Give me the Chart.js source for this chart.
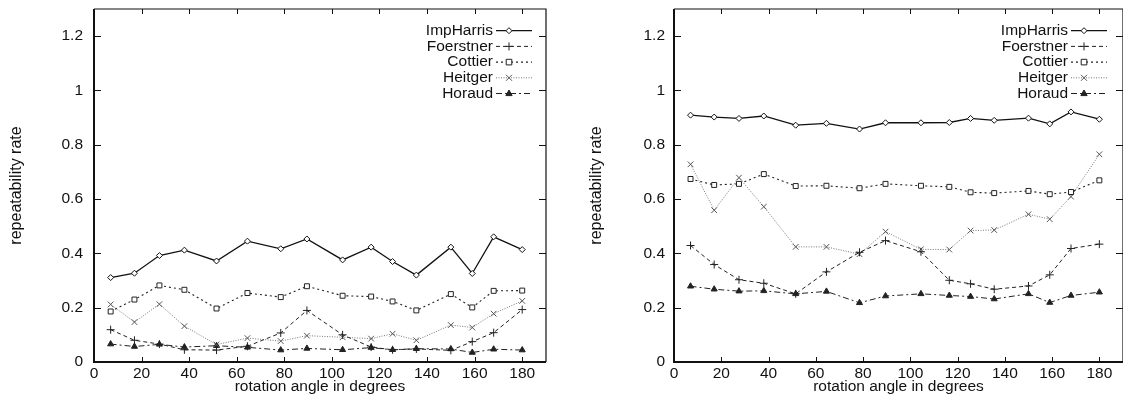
<!DOCTYPE html>
<html>
<head>
<meta charset="utf-8">
<script src="https://cdn.jsdelivr.net/npm/chart.js@4/dist/chart.umd.min.js"></script>
<style>
  html, body { margin: 0; padding: 0; background: #fff; }
  body { width: 1123px; height: 404px; position: relative; overflow: hidden; }
  .panel { position: absolute; top: 0; height: 404px; }
  #p1 { left: 0; width: 560px; }
  #p2 { left: 580px; width: 560px; }
</style>
</head>
<body>
<div class="panel" id="p1"><canvas id="c1" width="560" height="404"></canvas></div>
<div class="panel" id="p2"><canvas id="c2" width="560" height="404"></canvas></div>
<script>
// rotation angles (degrees) at which each detector was evaluated
const angles = [7, 17, 27.5, 38, 51.5, 64.5, 78.5, 89.5, 104.5, 116.5, 125.5, 135.5, 150, 159, 168, 180];

const seriesNames = ['ImpHarris', 'Foerstner', 'Cottier', 'Heitger', 'Horaud'];

// first image sequence
const p1ImpHarris = [0.311, 0.327, 0.392, 0.412, 0.372, 0.445, 0.417, 0.453, 0.376, 0.423, 0.370, 0.320, 0.423, 0.326, 0.461, 0.414];
const p1Foerstner = [0.119, 0.080, 0.066, 0.045, 0.044, 0.058, 0.107, 0.190, 0.100, 0.055, 0.045, 0.048, 0.043, 0.075, 0.108, 0.193];
const p1Cottier   = [0.186, 0.230, 0.282, 0.266, 0.197, 0.254, 0.239, 0.279, 0.244, 0.241, 0.223, 0.190, 0.250, 0.201, 0.262, 0.263];
const p1Heitger   = [0.212, 0.147, 0.213, 0.132, 0.064, 0.088, 0.077, 0.097, 0.091, 0.086, 0.104, 0.080, 0.136, 0.127, 0.178, 0.225];
const p1Horaud    = [0.066, 0.057, 0.065, 0.055, 0.060, 0.054, 0.044, 0.050, 0.045, 0.053, 0.045, 0.049, 0.048, 0.035, 0.047, 0.044];

// second image sequence
const p2ImpHarris = [0.909, 0.902, 0.897, 0.906, 0.872, 0.879, 0.858, 0.881, 0.881, 0.882, 0.897, 0.890, 0.898, 0.877, 0.921, 0.894];
const p2Foerstner = [0.429, 0.359, 0.303, 0.290, 0.251, 0.332, 0.404, 0.447, 0.406, 0.301, 0.288, 0.268, 0.280, 0.321, 0.418, 0.434];
const p2Cottier   = [0.674, 0.652, 0.656, 0.692, 0.648, 0.649, 0.640, 0.656, 0.649, 0.645, 0.625, 0.622, 0.630, 0.618, 0.626, 0.669];
const p2Heitger   = [0.728, 0.559, 0.679, 0.572, 0.424, 0.424, 0.397, 0.480, 0.415, 0.414, 0.484, 0.486, 0.544, 0.526, 0.609, 0.765];
const p2Horaud    = [0.279, 0.268, 0.261, 0.262, 0.251, 0.260, 0.218, 0.243, 0.251, 0.245, 0.241, 0.232, 0.251, 0.219, 0.245, 0.257];

const xTicks = [0, 20, 40, 60, 80, 100, 120, 140, 160, 180];
const yTicks = [0, 0.2, 0.4, 0.6, 0.8, 1.0, 1.2];
const yTickLabels = ['0', '0.2', '0.4', '0.6', '0.8', '1', '1.2'];

const xTitle = 'rotation angle in degrees';
const yTitle = 'repeatability rate';

const FONT = '"Liberation Sans", Arial, Helvetica, sans-serif';
const INK = '#111';

// line / marker look per detector (gnuplot-like)
const styles = [
  { color: '#111', width: 1.3, dash: [],            point: 'rectRot',  radius: 3,   fill: '#fff' },
  { color: '#222', width: 1.0, dash: [4, 3],        point: 'cross',    radius: 4,   fill: '#222' },
  { color: '#222', width: 1.1, dash: [2, 3],        point: 'rect',     radius: 3.5, fill: '#fff' },
  { color: '#555', width: 0.8, dash: [1, 1.5],      point: 'crossRot', radius: 4,   fill: '#555' },
  { color: '#222', width: 1.0, dash: [6, 3, 2, 3],  point: 'triangle', radius: 3.5, fill: '#222' }
];

function makeDatasets(values) {
  return values.map((vals, i) => {
    const s = styles[i];
    return {
      label: seriesNames[i],
      data: angles.map((a, k) => ({ x: a, y: vals[k] })),
      borderColor: s.color,
      borderWidth: s.width,
      borderDash: s.dash,
      pointStyle: s.point,
      pointRadius: s.radius,
      pointBorderColor: s.color,
      pointBackgroundColor: s.fill,
      pointBorderWidth: 1,
      tension: 0,
      fill: false
    };
  });
}

function drawMarker(ctx, style, r, x, y, stroke, fill) {
  ctx.save();
  ctx.setLineDash([]);
  ctx.lineWidth = 1;
  ctx.strokeStyle = stroke;
  ctx.fillStyle = fill;
  ctx.beginPath();
  if (style === 'rectRot') {
    ctx.moveTo(x, y - r); ctx.lineTo(x + r, y); ctx.lineTo(x, y + r); ctx.lineTo(x - r, y); ctx.closePath();
    ctx.fill(); ctx.stroke();
  } else if (style === 'rect') {
    const h = r * 0.8;
    ctx.rect(x - h, y - h, 2 * h, 2 * h); ctx.fill(); ctx.stroke();
  } else if (style === 'cross') {
    ctx.moveTo(x - r, y); ctx.lineTo(x + r, y); ctx.moveTo(x, y - r); ctx.lineTo(x, y + r); ctx.stroke();
  } else if (style === 'crossRot') {
    const d = r * 0.75;
    ctx.moveTo(x - d, y - d); ctx.lineTo(x + d, y + d); ctx.moveTo(x + d, y - d); ctx.lineTo(x - d, y + d); ctx.stroke();
  } else if (style === 'triangle') {
    ctx.moveTo(x, y - r); ctx.lineTo(x + r * 0.9, y + r * 0.6); ctx.lineTo(x - r * 0.9, y + r * 0.6); ctx.closePath();
    ctx.fill(); ctx.stroke();
  }
  ctx.restore();
}

// frame with inward ticks on all four sides, plus the key in the upper right
const framePlugin = {
  id: 'gnuFrame',
  afterDatasetsDraw(chart) {
    const { ctx, chartArea: a } = chart;
    const xs = chart.scales.x, ys = chart.scales.y;
    ctx.save();
    ctx.strokeStyle = INK;
    ctx.setLineDash([]);
    ctx.lineWidth = 1;
    ctx.beginPath();
    xTicks.forEach(v => {
      const px = Math.round(xs.getPixelForValue(v)) + 0.5;
      ctx.moveTo(px, a.bottom); ctx.lineTo(px, a.bottom - 5);
      ctx.moveTo(px, a.top); ctx.lineTo(px, a.top + 5);
    });
    yTicks.forEach(v => {
      const py = Math.round(ys.getPixelForValue(v)) + 0.5;
      ctx.moveTo(a.left, py); ctx.lineTo(a.left + 7, py);
      ctx.moveTo(a.right, py); ctx.lineTo(a.right - 7, py);
    });
    ctx.stroke();
    // frame
    ctx.lineWidth = 1.2;
    ctx.beginPath();
    ctx.moveTo(a.left, a.top); ctx.lineTo(a.right, a.top); ctx.lineTo(a.right, a.bottom);
    ctx.stroke();
    ctx.lineWidth = 2;
    ctx.beginPath();
    ctx.moveTo(a.left, a.top); ctx.lineTo(a.left, a.bottom); ctx.lineTo(a.right, a.bottom);
    ctx.stroke();

    // key
    const kr = chart.options.plugins.gnuFrame.keyRight;
    const textRight = kr - 53;
    const sampleL = kr - 50, sampleR = kr - 14;
    ctx.font = '15.5px ' + FONT;
    ctx.textAlign = 'right';
    ctx.textBaseline = 'middle';
    ctx.fillStyle = INK;
    chart.data.datasets.forEach((ds, i) => {
      const y = a.top + 21.7 + i * 15.7;
      ctx.fillText(ds.label, textRight, y);
      ctx.save();
      ctx.strokeStyle = ds.borderColor;
      ctx.lineWidth = ds.borderWidth;
      ctx.setLineDash(ds.borderDash);
      ctx.beginPath();
      ctx.moveTo(sampleL, y); ctx.lineTo(sampleR, y);
      ctx.stroke();
      ctx.restore();
      drawMarker(ctx, ds.pointStyle, ds.pointRadius, sampleL + 13, y, ds.pointBorderColor, ds.pointBackgroundColor);
    });
    ctx.restore();
  }
};

function makeChart(canvasId, values, padRight, yLabelPad, keyRight) {
  return new Chart(document.getElementById(canvasId), {
    type: 'line',
    data: { datasets: makeDatasets(values) },
    options: {
      responsive: false,
      animation: false,
      devicePixelRatio: 1,
      layout: { padding: { top: 9, right: padRight, left: 0, bottom: 0 } },
      plugins: { legend: { display: false }, tooltip: { enabled: false }, gnuFrame: { keyRight } },
      scales: {
        x: {
          type: 'linear',
          min: 0, max: 190,
          grid: { display: false, drawTicks: false },
          border: { display: false },
          afterFit(s) { s.height = 42; s.paddingLeft = 0; s.paddingRight = 0; },
          afterBuildTicks(s) { s.ticks = xTicks.map(v => ({ value: v })); },
          ticks: {
            autoSkip: false, maxRotation: 0, padding: 2, color: INK,
            font: { family: FONT, size: 15.5 },
            callback: v => String(v)
          },
          title: {
            display: true, text: xTitle, color: INK,
            font: { family: FONT, size: 15.5 },
            padding: { top: 0, bottom: 8 }
          }
        },
        y: {
          type: 'linear',
          min: 0, max: 1.3,
          grid: { display: false, drawTicks: false },
          border: { display: false },
          afterFit(s) { s.width = 94; s.paddingTop = 0; s.paddingBottom = 0; },
          afterBuildTicks(s) { s.ticks = yTicks.map(v => ({ value: v })); },
          ticks: {
            autoSkip: false, padding: yLabelPad, color: INK,
            font: { family: FONT, size: 15.5 },
            callback: v => yTickLabels[yTicks.findIndex(t => Math.abs(t - v) < 1e-9)]
          },
          title: {
            display: true, text: yTitle, color: INK,
            font: { family: FONT, size: 16 },
            padding: { top: 7, bottom: 0 }
          }
        }
      }
    },
    plugins: [framePlugin]
  });
}

makeChart('c1', [p1ImpHarris, p1Foerstner, p1Cottier, p1Heitger, p1Horaud], 14, 11, 546);
makeChart('c2', [p2ImpHarris, p2Foerstner, p2Cottier, p2Heitger, p2Horaud], 17, 9, 541);
</script>
</body>
</html>
